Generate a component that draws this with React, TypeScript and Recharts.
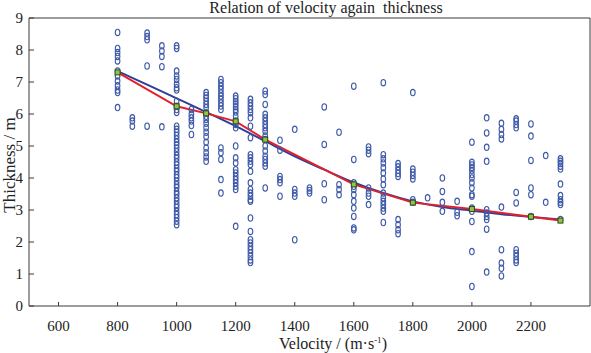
import React from 'react';
import { ComposedChart, XAxis, YAxis, Scatter, Line, ReferenceLine } from 'recharts';

// Measured velocity columns (m/s) and thickness samples (m) at each column
const velocities = [800, 850, 900, 950, 1000, 1050, 1100, 1150, 1200, 1250, 1300, 1350, 1400, 1450, 1500, 1550, 1600, 1650, 1700, 1750, 1800, 1850, 1900, 1950, 2000, 2050, 2100, 2150, 2200, 2250, 2300];
const thicknessSamples: number[][] = [
  [8.55, 8.05, 7.92, 7.8, 7.66, 7.34, 7.19, 7.03, 6.88, 6.75, 6.67, 6.2],
  [5.88, 5.78, 5.62],
  [8.53, 8.42, 8.32, 7.5, 5.62],
  [8.13, 7.97, 7.8, 7.48, 5.6],
  [8.13, 8.05, 7.34, 7.19, 7.08, 6.93, 6.82, 6.75, 6.4, 6.24, 6.14, 6.05, 5.62, 5.52, 5.43, 5.33, 5.22, 5.12, 5.03, 4.93, 4.82, 4.71, 4.62, 4.5, 4.41, 4.3, 4.21, 4.1, 4.01, 3.9, 3.79, 3.7, 3.58, 3.49, 3.38, 3.28, 3.17, 3.08, 2.96, 2.86, 2.76, 2.65, 2.54],
  [6.14, 5.99, 5.88, 5.78, 5.64, 5.36],
  [6.67, 6.58, 6.5, 6.4, 6.3, 6.2, 6.04, 5.93, 5.83, 5.71, 5.57, 5.43, 5.29, 5.12, 4.94, 4.79, 4.66, 4.52],
  [7.08, 6.98, 6.87, 6.77, 6.66, 6.56, 6.46, 6.35, 6.25, 6.14, 4.94, 4.79, 4.58, 3.95, 3.53],
  [6.56, 6.48, 6.39, 6.31, 6.23, 6.14, 6.06, 5.93, 5.78, 5.67, 5.57, 5.0, 4.63, 4.47, 4.26, 4.16, 4.05, 3.95, 3.85, 3.74, 3.64, 2.49],
  [6.46, 6.35, 6.25, 6.14, 6.04, 5.88, 5.62, 5.26, 4.73, 4.63, 4.52, 4.42, 4.21, 3.85, 3.64, 3.53, 3.43, 3.32, 3.27, 2.75, 2.33, 2.07, 1.97, 1.86, 1.76, 1.66, 1.55, 1.44, 1.36],
  [6.72, 6.61, 6.3, 5.99, 5.88, 5.78, 5.67, 5.57, 5.46, 5.31, 5.2, 5.0, 4.84, 4.68, 4.58, 4.47, 4.37, 3.69],
  [5.18, 4.87, 4.05, 3.95, 3.85, 3.43],
  [5.52, 3.64, 3.53, 3.43, 2.07],
  [3.69, 3.61, 3.53],
  [6.22, 5.05, 3.82, 3.32],
  [5.43, 3.79, 3.64, 3.48],
  [6.87, 4.58, 3.85, 3.74, 3.64, 3.48, 3.27, 3.06, 2.8, 2.44, 2.38],
  [4.97, 4.87, 4.76, 3.69, 3.53, 3.43, 3.17],
  [6.98, 4.73, 4.6, 4.47, 4.32, 4.16, 3.97, 3.79, 3.53, 3.38, 3.27, 3.17, 3.06, 2.96, 2.61],
  [4.45, 4.35, 4.24, 4.14, 4.05, 2.7, 2.54, 2.38, 2.26],
  [6.67, 4.28, 4.18, 4.08, 3.97, 3.32, 3.24],
  [3.38],
  [4.0, 3.58, 3.24, 2.96],
  [3.27, 2.93, 2.82],
  [5.12, 4.49, 4.41, 4.33, 4.24, 4.11, 4.0, 3.85, 3.69, 3.48, 3.43, 3.06, 2.96, 2.64, 1.7, 0.61],
  [5.88, 5.41, 4.96, 4.52, 3.01, 2.91, 2.8, 2.7, 2.4, 1.06],
  [5.71, 5.52, 5.36, 5.22, 3.09, 1.76, 1.34, 1.18, 0.94],
  [5.85, 5.78, 5.67, 5.57, 3.55, 3.22, 1.76, 1.65, 1.55, 1.44, 1.36],
  [5.69, 5.31, 4.55, 3.69, 3.48, 2.8],
  [4.7, 3.24],
  [4.6, 4.52, 4.45, 4.37, 4.28, 3.81, 3.45, 3.32, 3.24, 3.17, 2.7],
];

// Mean thickness (red line with green markers)
const meanVelocity = [800, 1000, 1100, 1200, 1300, 1600, 1800, 2000, 2200, 2300];
const meanThickness = [7.3, 6.24, 6.02, 5.77, 5.2, 3.8, 3.23, 3.03, 2.79, 2.67];

// Fitted curve (blue line)
const fitVelocity = [800, 900, 1000, 1100, 1200, 1300, 1400, 1500, 1600, 1700, 1800, 1900, 2000, 2100, 2200, 2300];
const fitThickness = [7.34, 6.92, 6.49, 6.06, 5.62, 5.15, 4.68, 4.26, 3.86, 3.53, 3.27, 3.09, 2.98, 2.87, 2.78, 2.7];

const xTicks = [600, 800, 1000, 1200, 1400, 1600, 1800, 2000, 2200];
const yTicks = [0, 1, 2, 3, 4, 5, 6, 7, 8, 9];

const scatterData = velocities.flatMap((v, i) => thicknessSamples[i].map((t) => ({ x: v, y: t })));
const meanData = meanVelocity.map((v, i) => ({ x: v, y: meanThickness[i] }));
const fitData = fitVelocity.map((v, i) => ({ x: v, y: fitThickness[i] }));

const FONT = "'Liberation Serif', 'Times New Roman', serif";
const AXIS = '#3a3a3a';

const XTick = (props: any) => {
  const { x, y, payload } = props;
  return (
    <g>
      <line x1={x} x2={x} y1={y - 8} y2={y - 12} stroke={AXIS} strokeWidth={1} />
      <text x={x} y={y + 17} textAnchor="middle" fontFamily={FONT} fontSize={15} fill="#222">
        {payload.value}
      </text>
    </g>
  );
};

const YTick = (props: any) => {
  const { x, y, payload } = props;
  return (
    <g>
      <line x1={x + 8} x2={x + 13} y1={y} y2={y} stroke={AXIS} strokeWidth={1} />
      <text x={x + 2} y={y + 5} textAnchor="end" fontFamily={FONT} fontSize={15} fill="#222">
        {payload.value}
      </text>
    </g>
  );
};

const Ring = (props: any) => {
  const { cx, cy } = props;
  if (cx == null || cy == null) return <g />;
  return <ellipse cx={cx} cy={cy} rx={2.3} ry={3.2} fill="none" stroke="#3f5aa8" strokeWidth={1.1} />;
};

const SquareDot = (props: any) => {
  const { cx, cy, index } = props;
  if (cx == null || cy == null) return <g key={index} />;
  return <rect key={index} x={cx - 2.5} y={cy - 2.5} width={5} height={5} fill="#8dc641" stroke="#2f4a1c" strokeWidth={1} />;
};

export default function App() {
  return (
    <div style={{ position: 'absolute', left: 0, top: 0, width: 591, height: 353, background: '#fff', overflow: 'hidden' }}>
      <ComposedChart
        width={591}
        height={353}
        data={scatterData}
        margin={{ top: 18, right: 1, bottom: 17, left: 7 }}
      >
        <XAxis
          type="number"
          dataKey="x"
          domain={[500, 2400]}
          ticks={xTicks}
          allowDataOverflow
          height={30}
          tickSize={6}
          tickMargin={2}
          tickLine={false}
          tick={<XTick />}
          axisLine={{ stroke: AXIS, strokeWidth: 1 }}
        />
        <YAxis
          type="number"
          dataKey="y"
          domain={[0, 9]}
          ticks={yTicks}
          allowDataOverflow
          width={22}
          tickSize={6}
          tickMargin={2}
          tickLine={false}
          tick={<YTick />}
          axisLine={{ stroke: AXIS, strokeWidth: 1 }}
        />
        <ReferenceLine y={9} stroke={AXIS} strokeWidth={1} />
        <ReferenceLine x={2400} stroke={AXIS} strokeWidth={1} />
        <Scatter data={scatterData} dataKey="y" shape={<Ring />} isAnimationActive={false} />
        <Line
          data={fitData}
          dataKey="y"
          type="monotone"
          stroke="#2d3f98"
          strokeWidth={2}
          dot={false}
          activeDot={false}
          isAnimationActive={false}
        />
        <Line
          data={meanData}
          dataKey="y"
          type="linear"
          stroke="#e3202a"
          strokeWidth={2}
          dot={<SquareDot />}
          activeDot={false}
          isAnimationActive={false}
        />
      </ComposedChart>
      <div style={{ position: 'absolute', left: 176, top: 0, width: 300, lineHeight: '16px', textAlign: 'center', fontFamily: FONT, fontSize: 16, color: '#222', whiteSpace: 'pre' }}>
        {'Relation of velocity again  thickness'}
      </div>
      <div style={{ position: 'absolute', left: 233, top: 335, width: 200, lineHeight: '18px', textAlign: 'center', fontFamily: FONT, fontSize: 16, color: '#222', whiteSpace: 'pre' }}>
        {'Velocity / (m·s'}
        <sup style={{ fontSize: 9, verticalAlign: 'top', lineHeight: '10px' }}>-1</sup>
        {')'}
      </div>
      <div style={{ position: 'absolute', left: -50, top: 156, width: 120, height: 18, lineHeight: '18px', textAlign: 'center', fontFamily: FONT, fontSize: 17, color: '#222', transform: 'rotate(-90deg)', whiteSpace: 'pre' }}>
        {'Thickness / m'}
      </div>
    </div>
  );
}
